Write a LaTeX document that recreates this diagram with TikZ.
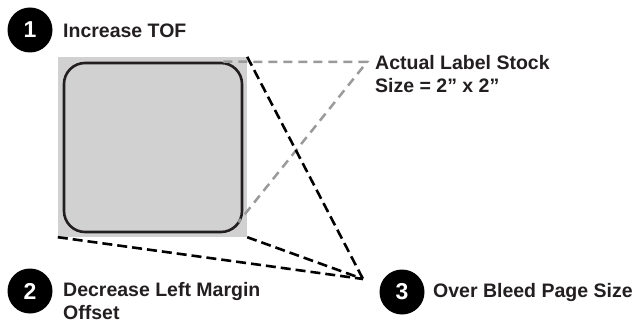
\documentclass[tikz,border=0pt]{standalone}
\usepackage{fontspec}
\setmainfont{Liberation Sans}
\usetikzlibrary{positioning}

\definecolor{stockgray}{HTML}{D1D1D1}
\definecolor{dashgray}{HTML}{9A9A9A}
\definecolor{inkblack}{HTML}{231F20}

\tikzset{
    numdot/.style={circle, fill=black, text=white, inner sep=0pt, minimum size=45pt,
        font=\fontsize{23}{23}\selectfont\bfseries},
    caption/.style={anchor=base west, inner sep=0pt, align=left, text=inkblack,
        font=\fontsize{19.5}{23}\selectfont\bfseries},
    blackdash/.style={line width=2.6pt, dash pattern=on 10pt off 5pt},
    graydash/.style={dashgray, line width=2.5pt, dash pattern=on 9pt off 6pt}
}

\begin{document}
\begin{tikzpicture}[x=1pt, y=-1pt]

    \useasboundingbox (0,0) rectangle (639,323);

    \node[draw=none, fill=stockgray, inner sep=0pt, minimum width=189pt, minimum height=180pt]
        (stock) at (152.5,147) {};
    \node[draw=inkblack, line width=2.6pt, fill=stockgray, rounded corners=21pt, inner sep=0pt,
        minimum width=178pt, minimum height=169pt] (label) at (153,147.5) {};

    % numbered steps
    \node[numdot] (n1) at (30,30) {1};
    \node[caption] (t1) at (63,38) {Increase TOF};

    \node[numdot] (n2) at (30,291) {2};
    \node[caption] (t2) at (63,319.5) {Decrease Left Margin\\Offset};

    \node[numdot] (n3) at (402,292) {3};
    \node[caption] (t3) at (433,297) {Over Bleed Page Size};

    \node[caption] (t4) at (375,93) {Actual Label Stock\\Size = 2” x 2”};

    % label stock outline
    \coordinate (stocktip) at (367,62);
    \draw[graydash] ([xshift=-20pt]label.north east) -- (stocktip)
        -- ([xshift=-5pt, yshift=11pt]label.south east);

    % bleed lines
    \coordinate (bleed) at (363,279);
    \draw[blackdash] (stock.north east) -- (bleed);
    \draw[blackdash] (stock.south east) -- (bleed);
    \draw[blackdash] (stock.south west) -- (bleed);

\end{tikzpicture}
\end{document}
